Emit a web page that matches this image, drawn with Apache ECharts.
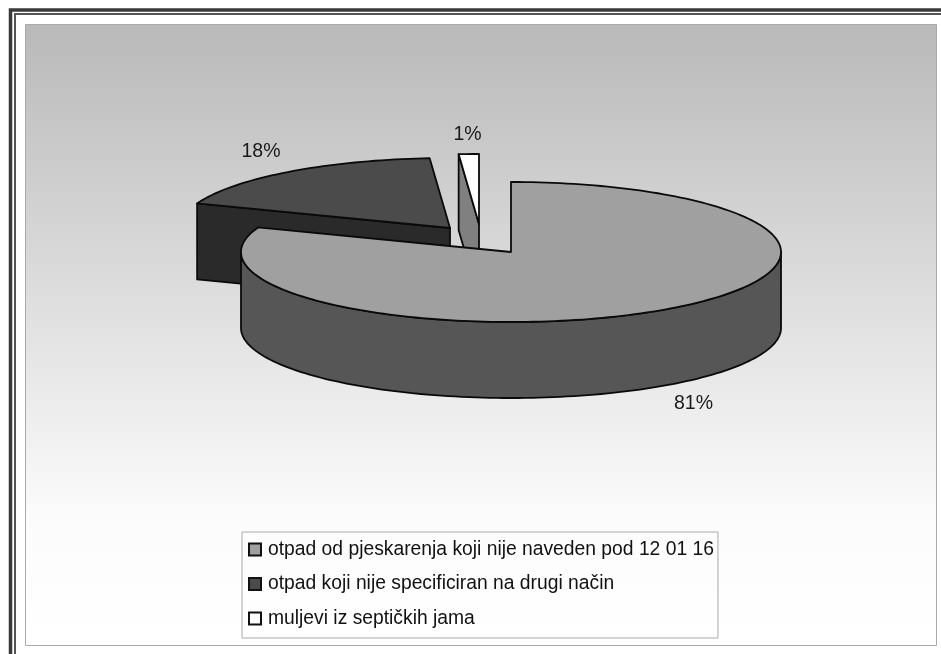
<!DOCTYPE html>
<html><head><meta charset="utf-8"><style>html,body{margin:0;padding:0;background:#fff}#c{width:941px;height:654px}</style>
<script src="https://cdn.jsdelivr.net/npm/echarts@6/dist/echarts.min.js"></script></head><body><div id="c"></div>
<script>
const categories = ['otpad od pjeskarenja koji nije naveden pod 12 01 16','otpad koji nije specificiran na drugi način','muljevi iz septičkih jama'];
const shares = [80.7, 18.1, 1.2];
const topColors = ['#a0a0a0','#4b4b4b','#ffffff'];
const faceColors = ['#565656','#2a2a2a','#808080'];
const centers = [[511,252],[450,228],[479,224]];
const labelPos = [[693.5,403.5],[261,152],[467.5,134.5]];
const RX=270, RY=70, DEPTH=76;
const total = shares.reduce((a,b)=>a+b,0);
const pt=(c,deg,dy=0)=>{const r=deg*Math.PI/180;return [c[0]+RX*Math.sin(r),c[1]-RY*Math.cos(r)+dy]};
function arc(c,a,b,dy=0){const out=[];const n=Math.max(2,Math.ceil(Math.abs(b-a)/1.5));for(let i=0;i<=n;i++)out.push(pt(c,a+(b-a)*i/n,dy));return out;}
const line={stroke:'#0a0a0a',lineWidth:1.8,lineJoin:'round'};
function poly(points,fill){return {type:'polygon',shape:{points},style:Object.assign({fill},line)};}
function sliceItem(i){return function(params,api){
  const c=centers[i];
  let before=0;for(let k=0;k<i;k++)before+=shares[k];
  const a=before/total*360,b=(before+api.value(0))/total*360;
  const ch=[];
  const top=[c].concat(arc(c,a,b));
  if(i===0){
    const front=arc(c,90,270);
    ch.push(poly(front.concat(arc(c,270,90,DEPTH)),faceColors[i]));
  } else {
    const e=pt(c,a);
    ch.push(poly([e,c,[c[0],c[1]+DEPTH],[e[0],e[1]+DEPTH]],faceColors[i]));
  }
  ch.push(poly(top,topColors[i]));
  ch.push({type:'text',style:{text:Math.round(api.value(0)/total*100)+'%',x:labelPos[i][0],y:labelPos[i][1],align:'center',verticalAlign:'middle',font:'19.5px "Liberation Sans"',fill:'#1a1a1a'}});
  return {type:'group',children:ch};
};}
const drawOrder=[2,1,0];
const option={animation:false,backgroundColor:'#fff',
 graphic:{elements:[
  {type:'rect',z:-10,shape:{x:10.5,y:10,width:1000,height:1000},style:{fill:'#fff',stroke:'#3a3a3a',lineWidth:3.5}},
  {type:'rect',z:-9,shape:{x:15,y:14,width:1000,height:1000},style:{fill:'#fff',stroke:'#555',lineWidth:2}},
  {type:'rect',z:-8,shape:{x:25.5,y:24.5,width:911,height:621},style:{stroke:'#aaa',lineWidth:1,fill:{type:'linear',x:0,y:0,x2:0,y2:1,colorStops:[{offset:0,color:'#b9b9b9'},{offset:.8,color:'#fcfcfc'},{offset:1,color:'#ffffff'}]}}}
 ]},
 legend:{orient:'vertical',left:242,top:532,data:categories,icon:'rect',itemWidth:12,itemHeight:12,itemGap:15.5,padding:[8,4,10,6],
  borderColor:'#aaa',borderWidth:1,backgroundColor:'transparent',textStyle:{fontFamily:'Liberation Sans',fontSize:19.3,color:'#111',padding:[0,0,0,2]},selectedMode:false},
 series:drawOrder.map(i=>({type:'custom',name:categories[i],coordinateSystem:'none',silent:true,
   renderItem:sliceItem(i),data:[[shares[i]]],clip:false,
   itemStyle:{color:topColors[i],borderColor:'#111',borderWidth:1.5},encode:{value:0}}))
};
echarts.init(document.getElementById('c'),null,{renderer:'canvas'}).setOption(option);
</script></body></html>
